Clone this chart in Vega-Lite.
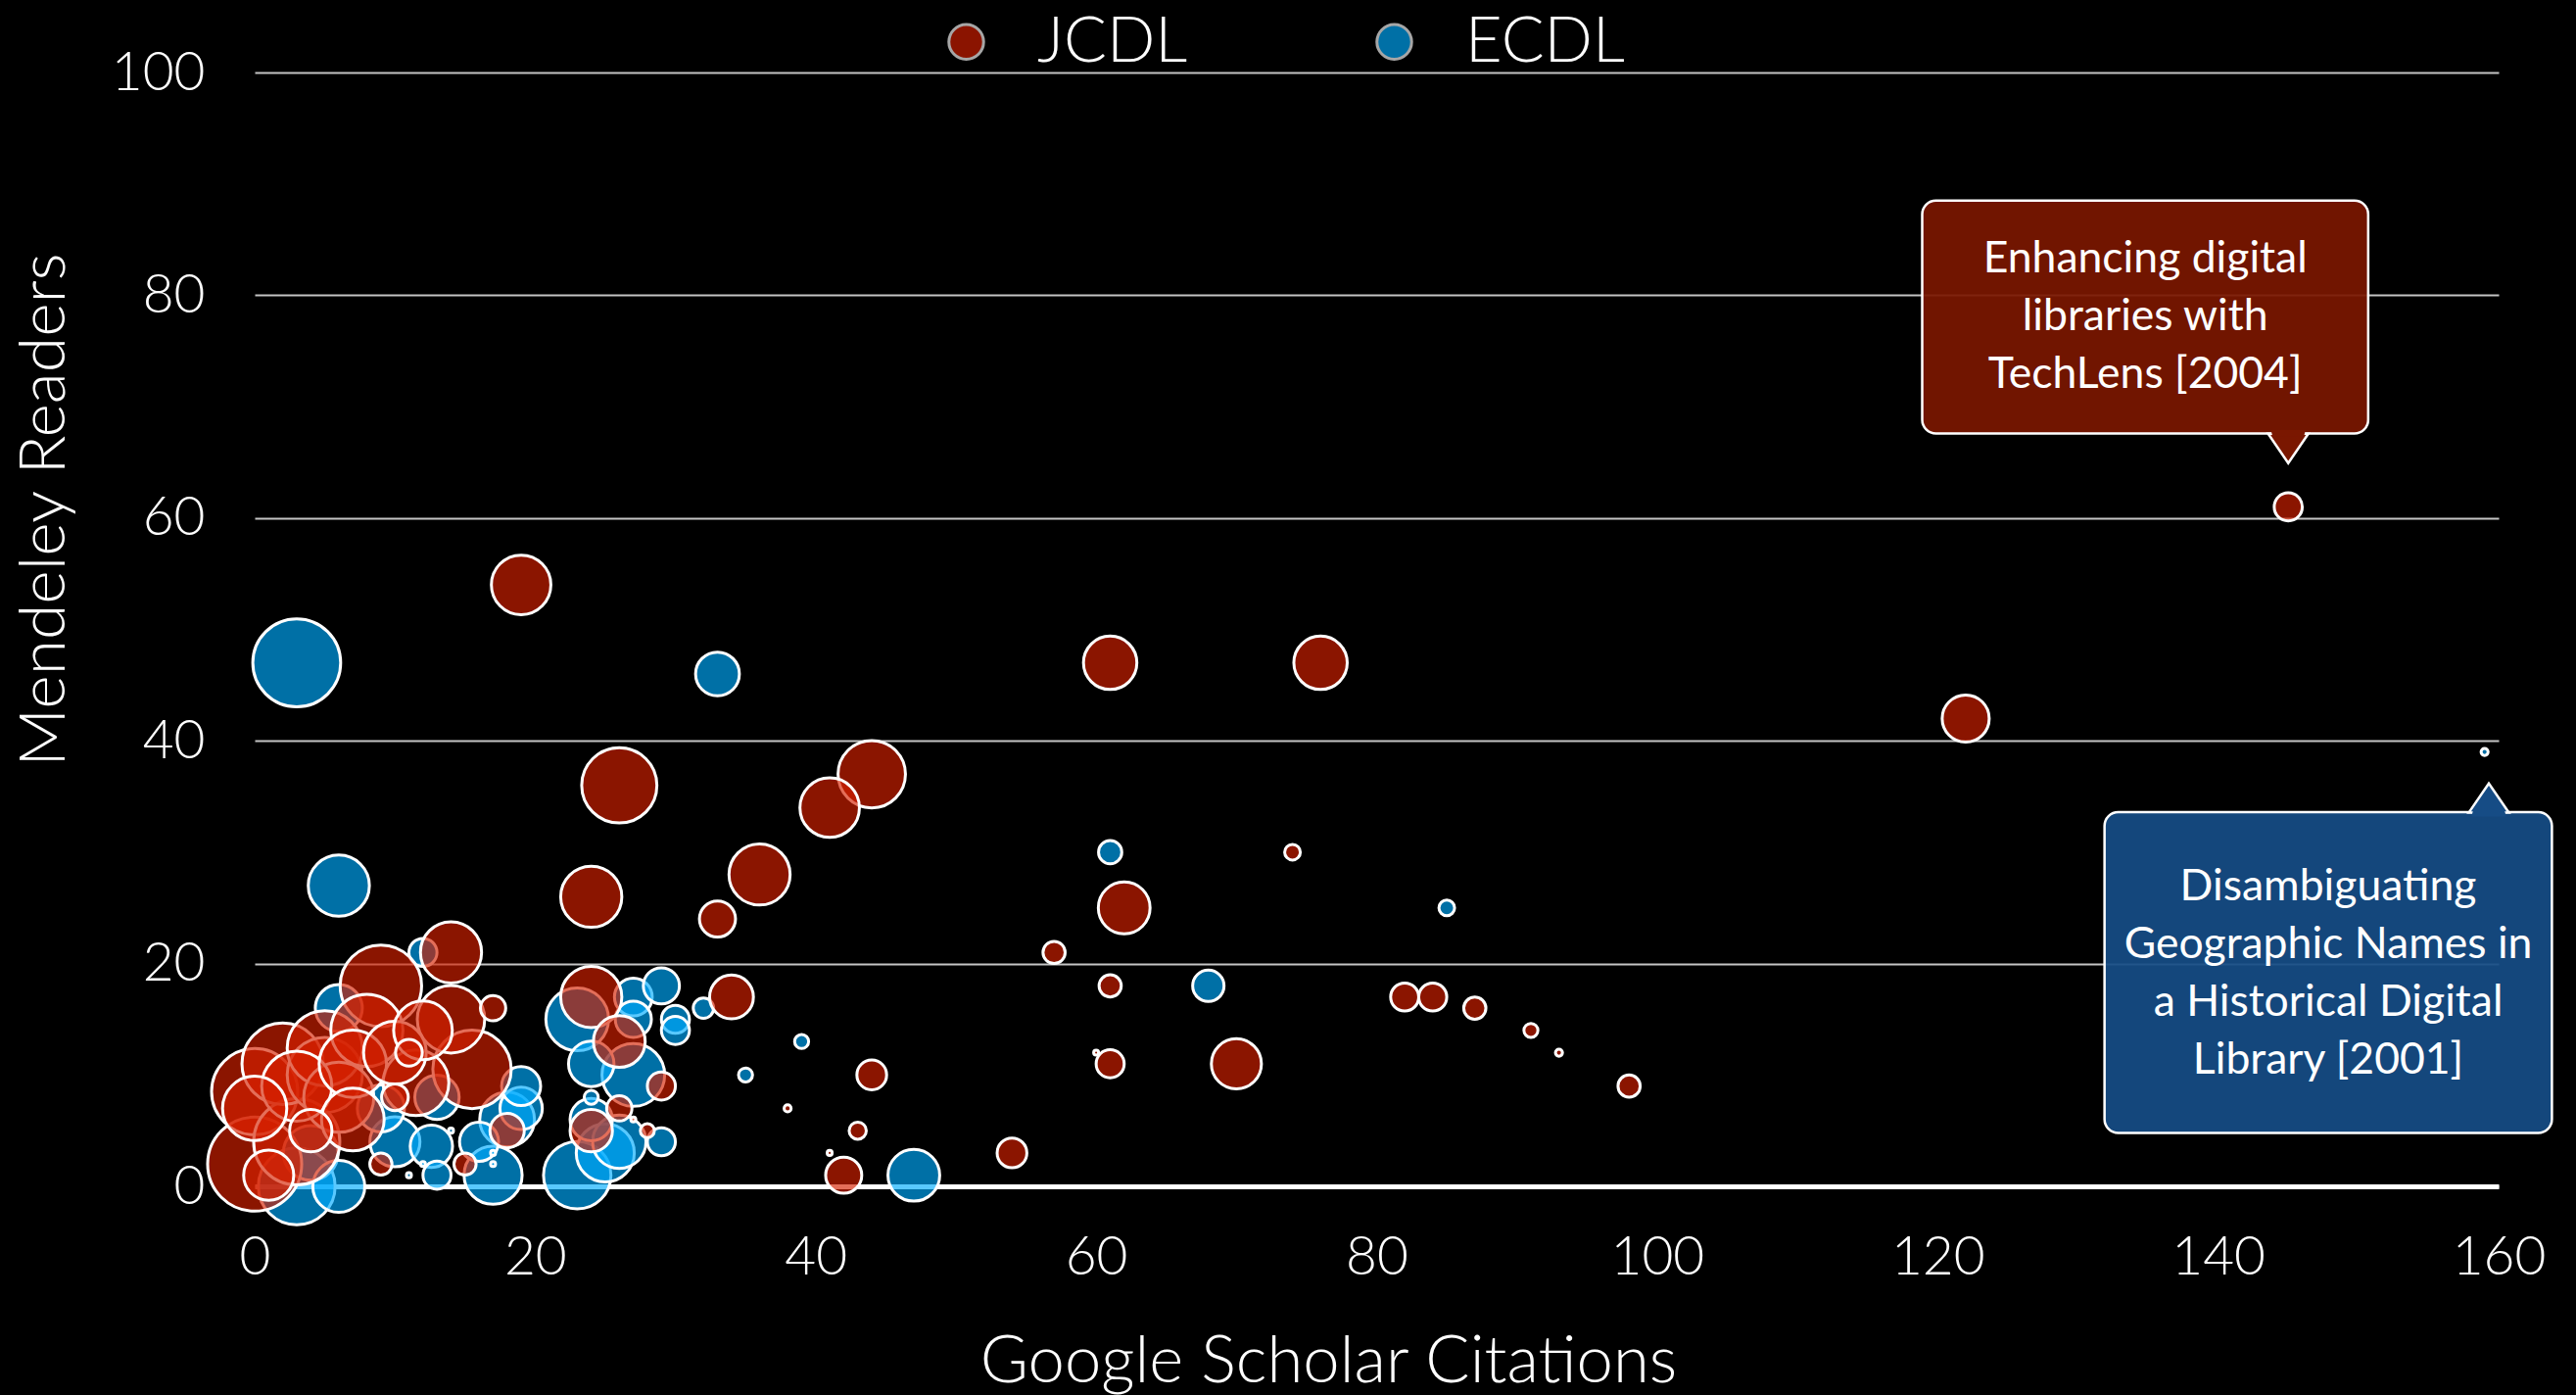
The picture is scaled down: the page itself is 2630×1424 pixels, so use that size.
{
  "$schema": "https://vega.github.io/schema/vega-lite/v6.json",
  "width": 2291,
  "height": 1137,
  "autosize": {"type": "none"},
  "padding": {"left": 260, "top": 74, "right": 79, "bottom": 213},
  "background": "#000000",
  "config": {
    "view": {"stroke": null},
    "font": "Lato"
  },
  "datasets": {
    "papers": [
      {"venue": "ECDL", "citations": 3, "readers": 47, "w": 314},
      {"venue": "ECDL", "citations": 3, "readers": 0, "w": 240},
      {"venue": "ECDL", "citations": 23, "readers": 1, "w": 185},
      {"venue": "ECDL", "citations": 23, "readers": 15, "w": 160},
      {"venue": "ECDL", "citations": 27, "readers": 10, "w": 160},
      {"venue": "ECDL", "citations": 6, "readers": 27, "w": 152},
      {"venue": "ECDL", "citations": 17, "readers": 1, "w": 137},
      {"venue": "ECDL", "citations": 25, "readers": 3, "w": 137},
      {"venue": "ECDL", "citations": 4, "readers": 3, "w": 122},
      {"venue": "ECDL", "citations": 18, "readers": 6, "w": 122},
      {"venue": "ECDL", "citations": 26, "readers": 4, "w": 116},
      {"venue": "ECDL", "citations": 6, "readers": 0, "w": 110},
      {"venue": "ECDL", "citations": 47, "readers": 1, "w": 109},
      {"venue": "ECDL", "citations": 10, "readers": 4, "w": 102},
      {"venue": "ECDL", "citations": 6, "readers": 16, "w": 90},
      {"venue": "ECDL", "citations": 9, "readers": 7, "w": 90},
      {"venue": "ECDL", "citations": 24, "readers": 11, "w": 84},
      {"venue": "ECDL", "citations": 13, "readers": 8, "w": 80},
      {"venue": "ECDL", "citations": 33, "readers": 46, "w": 78},
      {"venue": "ECDL", "citations": 12.6, "readers": 3.6, "w": 73},
      {"venue": "ECDL", "citations": 19, "readers": 7, "w": 73},
      {"venue": "ECDL", "citations": 24, "readers": 6, "w": 73},
      {"venue": "ECDL", "citations": 16, "readers": 4, "w": 62},
      {"venue": "ECDL", "citations": 19, "readers": 9, "w": 62},
      {"venue": "ECDL", "citations": 27, "readers": 17, "w": 58},
      {"venue": "ECDL", "citations": 29, "readers": 18, "w": 53},
      {"venue": "ECDL", "citations": 27, "readers": 15, "w": 53},
      {"venue": "ECDL", "citations": 68, "readers": 18, "w": 40},
      {"venue": "ECDL", "citations": 12, "readers": 21, "w": 32},
      {"venue": "ECDL", "citations": 13, "readers": 1, "w": 32},
      {"venue": "ECDL", "citations": 30, "readers": 15, "w": 32},
      {"venue": "ECDL", "citations": 30, "readers": 14, "w": 32},
      {"venue": "ECDL", "citations": 29, "readers": 4, "w": 32},
      {"venue": "ECDL", "citations": 61, "readers": 30, "w": 22},
      {"venue": "ECDL", "citations": 32, "readers": 16, "w": 17},
      {"venue": "ECDL", "citations": 85, "readers": 25, "w": 10},
      {"venue": "ECDL", "citations": 39, "readers": 13, "w": 8},
      {"venue": "ECDL", "citations": 35, "readers": 10, "w": 8},
      {"venue": "ECDL", "citations": 24, "readers": 8, "w": 8},
      {"venue": "ECDL", "citations": 159, "readers": 39, "w": 2},
      {"venue": "ECDL", "citations": 14, "readers": 5, "w": 1},
      {"venue": "ECDL", "citations": 17, "readers": 3, "w": 1},
      {"venue": "ECDL", "citations": 17, "readers": 2, "w": 1},
      {"venue": "ECDL", "citations": 12, "readers": 2, "w": 1},
      {"venue": "ECDL", "citations": 11, "readers": 1, "w": 1},
      {"venue": "JCDL", "citations": 0, "readers": 2, "w": 360},
      {"venue": "JCDL", "citations": 0, "readers": 8.5, "w": 302},
      {"venue": "JCDL", "citations": 3, "readers": 4, "w": 302},
      {"venue": "JCDL", "citations": 9, "readers": 18, "w": 270},
      {"venue": "JCDL", "citations": 2, "readers": 11, "w": 270},
      {"venue": "JCDL", "citations": 15.5, "readers": 10.5, "w": 250},
      {"venue": "JCDL", "citations": 26, "readers": 36, "w": 230},
      {"venue": "JCDL", "citations": 5, "readers": 10, "w": 230},
      {"venue": "JCDL", "citations": 5, "readers": 12.4, "w": 230},
      {"venue": "JCDL", "citations": 8, "readers": 14, "w": 212},
      {"venue": "JCDL", "citations": 6, "readers": 8, "w": 200},
      {"venue": "JCDL", "citations": 3, "readers": 9, "w": 200},
      {"venue": "JCDL", "citations": 44, "readers": 37, "w": 185},
      {"venue": "JCDL", "citations": 14, "readers": 15, "w": 185},
      {"venue": "JCDL", "citations": 7, "readers": 11, "w": 185},
      {"venue": "JCDL", "citations": 11.5, "readers": 9.3, "w": 176},
      {"venue": "JCDL", "citations": 0, "readers": 7, "w": 168},
      {"venue": "JCDL", "citations": 10, "readers": 12, "w": 160},
      {"venue": "JCDL", "citations": 7, "readers": 6, "w": 160},
      {"venue": "JCDL", "citations": 24, "readers": 26, "w": 152},
      {"venue": "JCDL", "citations": 36, "readers": 28, "w": 152},
      {"venue": "JCDL", "citations": 24, "readers": 17, "w": 152},
      {"venue": "JCDL", "citations": 14, "readers": 21, "w": 152},
      {"venue": "JCDL", "citations": 19, "readers": 54, "w": 144},
      {"venue": "JCDL", "citations": 41, "readers": 34, "w": 144},
      {"venue": "JCDL", "citations": 12, "readers": 14, "w": 140},
      {"venue": "JCDL", "citations": 61, "readers": 47, "w": 116},
      {"venue": "JCDL", "citations": 76, "readers": 47, "w": 116},
      {"venue": "JCDL", "citations": 62, "readers": 25, "w": 109},
      {"venue": "JCDL", "citations": 26, "readers": 13, "w": 109},
      {"venue": "JCDL", "citations": 70, "readers": 11, "w": 102},
      {"venue": "JCDL", "citations": 1, "readers": 1, "w": 102},
      {"venue": "JCDL", "citations": 122, "readers": 42, "w": 90},
      {"venue": "JCDL", "citations": 34, "readers": 17, "w": 78},
      {"venue": "JCDL", "citations": 24, "readers": 5, "w": 73},
      {"venue": "JCDL", "citations": 4, "readers": 5, "w": 73},
      {"venue": "JCDL", "citations": 33, "readers": 24, "w": 53},
      {"venue": "JCDL", "citations": 42, "readers": 1, "w": 53},
      {"venue": "JCDL", "citations": 18, "readers": 5, "w": 48},
      {"venue": "JCDL", "citations": 44, "readers": 10, "w": 36},
      {"venue": "JCDL", "citations": 54, "readers": 3, "w": 36},
      {"venue": "JCDL", "citations": 145, "readers": 61, "w": 32},
      {"venue": "JCDL", "citations": 82, "readers": 17, "w": 32},
      {"venue": "JCDL", "citations": 84, "readers": 17, "w": 32},
      {"venue": "JCDL", "citations": 61, "readers": 11, "w": 32},
      {"venue": "JCDL", "citations": 29, "readers": 9, "w": 32},
      {"venue": "JCDL", "citations": 10, "readers": 8, "w": 29},
      {"venue": "JCDL", "citations": 11, "readers": 12, "w": 29},
      {"venue": "JCDL", "citations": 26, "readers": 7, "w": 26},
      {"venue": "JCDL", "citations": 17, "readers": 16, "w": 26},
      {"venue": "JCDL", "citations": 57, "readers": 21, "w": 20},
      {"venue": "JCDL", "citations": 61, "readers": 18, "w": 20},
      {"venue": "JCDL", "citations": 87, "readers": 16, "w": 20},
      {"venue": "JCDL", "citations": 98, "readers": 9, "w": 20},
      {"venue": "JCDL", "citations": 15, "readers": 2, "w": 20},
      {"venue": "JCDL", "citations": 9, "readers": 2, "w": 20},
      {"venue": "JCDL", "citations": 43, "readers": 5, "w": 12},
      {"venue": "JCDL", "citations": 74, "readers": 30, "w": 10},
      {"venue": "JCDL", "citations": 91, "readers": 14, "w": 8},
      {"venue": "JCDL", "citations": 28, "readers": 5, "w": 8},
      {"venue": "JCDL", "citations": 93, "readers": 12, "w": 2},
      {"venue": "JCDL", "citations": 38, "readers": 7, "w": 2},
      {"venue": "JCDL", "citations": 60, "readers": 12, "w": 1},
      {"venue": "JCDL", "citations": 41, "readers": 3, "w": 1},
      {"venue": "JCDL", "citations": 27, "readers": 6, "w": 1}
    ],
    "notes": [
      {"venue": "JCDL", "x1": 118.9, "x2": 150.7, "y1": 67.6, "y2": 88.5, "tx": 134.8, "ty": 83.2, "px": 145.0, "py": 66.25, "label": "Enhancing digital\nlibraries with\nTechLens [2004]"},
      {"venue": "ECDL", "x1": 131.9, "x2": 163.8, "y1": 4.8, "y2": 33.6, "tx": 147.85, "ty": 26.85, "px": 159.3, "py": 34.86, "label": "Disambiguating\nGeographic Names in\na Historical Digital\nLibrary [2001]"}
    ]
  },
  "resolve": {"scale": {"shape": "independent"}},
  "layer": [
    {
      "data": {"name": "papers"},
      "mark": {"type": "point", "filled": true, "fillOpacity": 0.65, "stroke": "white", "strokeOpacity": 1, "strokeWidth": 3},
      "encoding": {
        "x": {
          "field": "citations", "type": "quantitative",
          "scale": {"domain": [0, 160], "nice": false, "zero": true},
          "axis": {
            "title": "Google Scholar Citations",
            "values": [0, 20, 40, 60, 80, 100, 120, 140, 160],
            "grid": false, "ticks": false, "tickSize": 0, "labelFlush": false,
            "domain": true, "domainColor": "#ffffff", "domainWidth": 5,
            "labelPadding": 46, "labelFontSize": 55, "labelFontWeight": 300, "labelColor": "#ffffff", "labelFont": "Lato",
            "titleFontSize": 67, "titleFontWeight": 300, "titleColor": "#ffffff", "titleFont": "Lato",
            "titleX": 1096, "titleY": 199, "titleBaseline": "alphabetic", "titleAlign": "center"
          }
        },
        "y": {
          "field": "readers", "type": "quantitative",
          "scale": {"domain": [0, 100], "nice": false},
          "axis": {
            "title": "Mendeley Readers",
            "values": [0, 20, 40, 60, 80, 100],
            "grid": true, "gridColor": "#c4c4c4", "gridWidth": 2,
            "domain": false, "ticks": false, "tickSize": 0,
            "labelPadding": 51, "labelFontSize": 55, "labelFontWeight": 300, "labelColor": "#ffffff", "labelFont": "Lato",
            "titleFontSize": 66, "titleFontWeight": 300, "titleColor": "#ffffff", "titleFont": "Lato",
            "titleX": -195, "titleY": 446, "titleAngle": 270, "titleBaseline": "alphabetic", "titleAlign": "center"
          }
        },
        "color": {
          "field": "venue", "type": "nominal",
          "scale": {"domain": ["JCDL", "ECDL"], "range": ["#D62000", "#00ACFF"]},
          "legend": {
            "title": null, "orient": "none", "legendX": 694, "legendY": -64,
            "direction": "horizontal", "padding": 0,
            "symbolType": "circle", "symbolSize": 1257, "symbolOpacity": 0.65,
            "symbolStrokeColor": "#ffffff", "symbolStrokeWidth": 3,
            "labelFontSize": 65, "labelFont": "Lato", "labelFontWeight": 300, "labelColor": "#ffffff",
            "labelLimit": 600, "labelOffset": 40, "columnPadding": 178
          }
        },
        "size": {
          "field": "w", "type": "quantitative",
          "scale": {"domain": [0, 400], "range": [0, 10250]},
          "legend": null
        }
      }
    },
    {
      "data": {"name": "notes"},
      "mark": {"type": "rect", "cornerRadius": 14, "stroke": "#ffffff", "strokeWidth": 2.5, "fillOpacity": 0.93},
      "encoding": {
        "x": {"field": "x1", "type": "quantitative"},
        "x2": {"field": "x2"},
        "y": {"field": "y1", "type": "quantitative"},
        "y2": {"field": "y2"},
        "fill": {"field": "venue", "type": "nominal", "scale": {"domain": ["JCDL", "ECDL"], "range": ["#7A1700", "#164C85"]}, "legend": null}
      }
    },
    {
      "data": {"name": "notes"},
      "mark": {"type": "point", "filled": true, "stroke": "#ffffff", "strokeWidth": 2.5, "size": 1681, "fillOpacity": 1, "opacity": 1},
      "encoding": {
        "x": {"field": "px", "type": "quantitative"},
        "y": {"field": "py", "type": "quantitative"},
        "fill": {"field": "venue", "type": "nominal", "scale": {"domain": ["JCDL", "ECDL"], "range": ["#7A1700", "#164C85"]}, "legend": null},
        "shape": {"field": "venue", "type": "nominal", "scale": {"domain": ["JCDL", "ECDL"], "range": ["M-1,-0.73L0,0.73L1,-0.73Z", "M-1,0.73L0,-0.73L1,0.73Z"]}, "legend": null}
      }
    },
    {
      "data": {"name": "notes"},
      "mark": {"type": "point", "filled": true, "strokeWidth": 0, "size": 1681, "fillOpacity": 1, "opacity": 1},
      "encoding": {
        "x": {"field": "px", "type": "quantitative"},
        "y": {"field": "py", "type": "quantitative"},
        "fill": {"field": "venue", "type": "nominal", "scale": {"domain": ["JCDL", "ECDL"], "range": ["#7A1700", "#164C85"]}, "legend": null},
        "shape": {"field": "venue", "type": "nominal", "scale": {"domain": ["JCDL", "ECDL"], "range": ["M-0.86,-0.92L0.86,-0.92L0.78,-0.6L-0.78,-0.6Z", "M-0.86,0.92L0.86,0.92L0.78,0.6L-0.78,0.6Z"]}, "legend": null}
      }
    },
    {
      "data": {"name": "notes"},
      "mark": {"type": "text", "lineBreak": "\n", "fontSize": 44.5, "lineHeight": 59, "font": "Lato", "color": "#ffffff", "align": "center", "baseline": "middle"},
      "encoding": {
        "x": {"field": "tx", "type": "quantitative"},
        "y": {"field": "ty", "type": "quantitative"},
        "text": {"field": "label", "type": "nominal"}
      }
    }
  ]
}
